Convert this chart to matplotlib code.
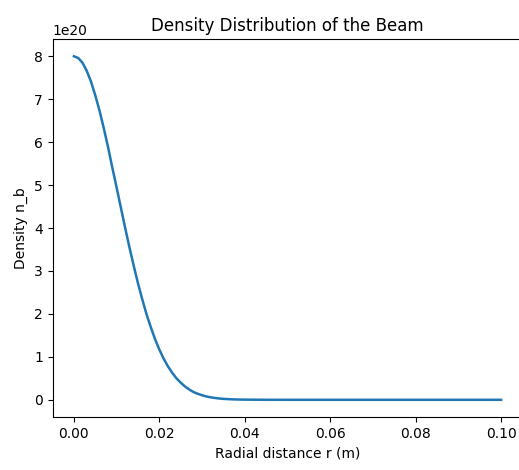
import matplotlib
matplotlib.use("Agg")
import matplotlib.pyplot as plt
import numpy as np

# radial positions (m) and beam density (units of 1e20)
r_vals = [0.000, 0.001, 0.002, 0.003, 0.004, 0.005, 0.006, 0.007, 0.008,
          0.009, 0.010, 0.011, 0.012, 0.013, 0.014, 0.015, 0.016, 0.017,
          0.018, 0.019, 0.020, 0.021, 0.022, 0.023, 0.024, 0.025, 0.026,
          0.027, 0.028, 0.029, 0.030, 0.031, 0.032, 0.033, 0.034, 0.035,
          0.036, 0.037, 0.038, 0.039, 0.040, 0.045, 0.050, 0.060, 0.070,
          0.080, 0.090, 0.100]
n_vals = [8.00, 7.96, 7.85, 7.66, 7.41, 7.09, 6.73, 6.32, 5.88,
          5.40, 4.94, 4.47, 4.00, 3.55, 3.12, 2.71, 2.34, 1.99,
          1.69, 1.41, 1.17, 0.96, 0.78, 0.63, 0.50, 0.40, 0.31,
          0.24, 0.18, 0.14, 0.106, 0.079, 0.058, 0.043, 0.031, 0.022,
          0.016, 0.011, 0.008, 0.0055, 0.004, 0.0005, 0.0, 0.0, 0.0,
          0.0, 0.0, 0.0]

r = np.array(r_vals)
n_b = np.array(n_vals) * 1e20

fig = plt.figure(figsize=(5.19, 4.70), dpi=100)
ax = fig.add_axes([0.1013, 0.1128, 0.9053, 0.804])
ax.plot(r, n_b, linewidth=1.8)
ax.spines["right"].set_visible(False)  # cut off in the original
ax.set_title("Density Distribution of the Beam")
ax.set_xlabel("Radial distance r (m)")
ax.set_ylabel("Density n_b")

fig.savefig("out.png", dpi=100)
